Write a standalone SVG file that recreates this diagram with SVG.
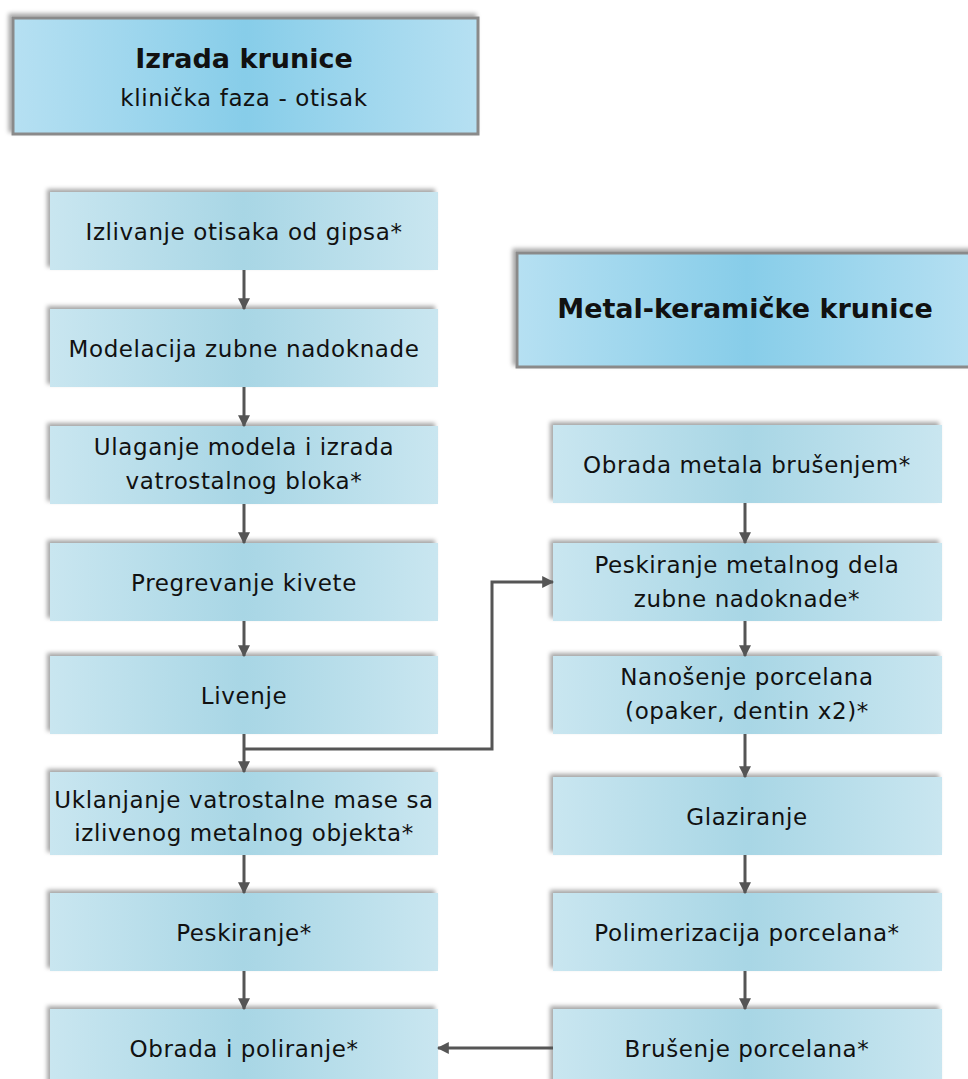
<svg xmlns="http://www.w3.org/2000/svg" width="968" height="1079" viewBox="0 0 968 1079">
<defs>
<linearGradient id="gHead" x1="0" y1="0" x2="1" y2="0">
<stop offset="0" stop-color="#b6e0f2"/>
<stop offset="0.5" stop-color="#87cde9"/>
<stop offset="1" stop-color="#b6e0f2"/>
</linearGradient>
<linearGradient id="gBox" x1="0" y1="0" x2="1" y2="0">
<stop offset="0" stop-color="#c9e6f0"/>
<stop offset="0.5" stop-color="#a8d6e5"/>
<stop offset="1" stop-color="#c9e6f0"/>
</linearGradient>
<filter id="sh" x="-5%" y="-10%" width="110%" height="120%">
<feDropShadow dx="-3" dy="-3" stdDeviation="2" flood-color="#000" flood-opacity="0.35"/>
</filter>
<marker id="ah" viewBox="0 0 10 10" refX="9" refY="5" markerWidth="4" markerHeight="4" orient="auto" markerUnits="strokeWidth">
<path d="M0,0 L10,5 L0,10 z" fill="#555"/>
</marker>
</defs>
<style>
.head{fill:url(#gHead);stroke:#8a8a8a;stroke-width:3;filter:url(#sh)}
.box{fill:url(#gBox);filter:url(#sh)}
.t{font-family:"DejaVu Sans","Liberation Sans",sans-serif;font-size:23px;letter-spacing:0.6px;fill:#111;text-anchor:middle}
.tb{font-family:"DejaVu Sans","Liberation Sans",sans-serif;font-size:27px;font-weight:bold;fill:#111;text-anchor:middle}
.c{fill:none;stroke:#555;stroke-width:3;marker-end:url(#ah)}
</style>
<rect width="968" height="1079" fill="#fff"/>

<g id="n_izrada">
<rect class="head" x="13" y="18" width="465" height="116"/>
<text class="tb" x="244" y="68">Izrada krunice</text>
<text class="t" x="244" y="106">klinička faza - otisak</text>
</g>

<g id="n_metal">
<rect class="head" x="517" y="253" width="460" height="114"/>
<text class="tb" x="745" y="318">Metal-keramičke krunice</text>
</g>

<g id="n1"><rect class="box" x="50" y="192" width="388" height="78"/><text class="t" x="244" y="240">Izlivanje otisaka od gipsa*</text></g>
<g id="n2"><rect class="box" x="50" y="309" width="388" height="78"/><text class="t" x="244" y="357">Modelacija zubne nadoknade</text></g>
<g id="n3"><rect class="box" x="50" y="426" width="388" height="78"/><text class="t" x="244" y="455">Ulaganje modela i izrada</text><text class="t" x="244" y="489">vatrostalnog bloka*</text></g>
<g id="n4"><rect class="box" x="50" y="543" width="388" height="78"/><text class="t" x="244" y="591">Pregrevanje kivete</text></g>
<g id="n5"><rect class="box" x="50" y="656" width="388" height="78"/><text class="t" x="244" y="704">Livenje</text></g>
<g id="n6"><rect class="box" x="50" y="772" width="388" height="83"/><text class="t" x="244" y="808">Uklanjanje vatrostalne mase sa</text><text class="t" x="244" y="841">izlivenog metalnog objekta*</text></g>
<g id="n7"><rect class="box" x="50" y="893" width="388" height="78"/><text class="t" x="244" y="941">Peskiranje*</text></g>
<g id="n8"><rect class="box" x="50" y="1009" width="388" height="78"/><text class="t" x="244" y="1057">Obrada i poliranje*</text></g>

<g id="r1"><rect class="box" x="553" y="425" width="389" height="78"/><text class="t" x="747" y="473">Obrada metala brušenjem*</text></g>
<g id="r2"><rect class="box" x="553" y="543" width="389" height="78"/><text class="t" x="747" y="573">Peskiranje metalnog dela</text><text class="t" x="747" y="607">zubne nadoknade*</text></g>
<g id="r3"><rect class="box" x="553" y="656" width="389" height="78"/><text class="t" x="747" y="685">Nanošenje porcelana</text><text class="t" x="747" y="719">(opaker, dentin x2)*</text></g>
<g id="r4"><rect class="box" x="553" y="777" width="389" height="78"/><text class="t" x="747" y="825">Glaziranje</text></g>
<g id="r5"><rect class="box" x="553" y="893" width="389" height="78"/><text class="t" x="747" y="941">Polimerizacija porcelana*</text></g>
<g id="r6"><rect class="box" x="553" y="1009" width="389" height="78"/><text class="t" x="747" y="1057">Brušenje porcelana*</text></g>

<g id="connectors">
<path class="c" d="M244,270 L244,309"/>
<path class="c" d="M244,387 L244,426"/>
<path class="c" d="M244,504 L244,543"/>
<path class="c" d="M244,621 L244,656"/>
<path class="c" d="M244,734 L244,772"/>
<path class="c" d="M244,855 L244,893"/>
<path class="c" d="M244,971 L244,1009"/>
<path class="c" d="M244,749 L492,749 L492,582 L553,582"/>
<path class="c" d="M745,503 L745,543"/>
<path class="c" d="M745,621 L745,656"/>
<path class="c" d="M745,734 L745,777"/>
<path class="c" d="M745,855 L745,893"/>
<path class="c" d="M745,971 L745,1009"/>
<path class="c" d="M553,1048 L438,1048"/>
</g>
</svg>
